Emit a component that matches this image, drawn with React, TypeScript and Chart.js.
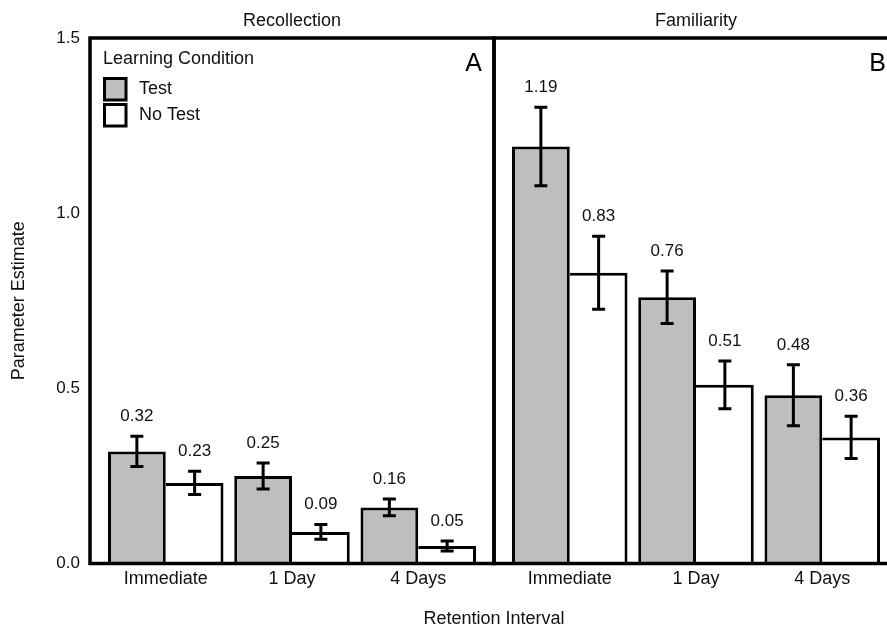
import React, { useEffect, useRef } from 'react';
import { Chart, registerables } from 'chart.js';

Chart.register(...registerables);

const categories = ['Immediate', '1 Day', '4 Days'];
const panels = ['Recollection', 'Familiarity'];
const panelLetters = ['A', 'B'];
const seriesNames = ['Test', 'No Test'];
const legendTitle = 'Learning Condition';
const yAxisTitle = 'Parameter Estimate';
const xAxisTitle = 'Retention Interval';
const yTicks = [0, 0.5, 1.0, 1.5];

const recollectionTest = [0.32, 0.25, 0.16];
const recollectionNoTest = [0.23, 0.09, 0.05];
const recollectionTestErr = [0.043, 0.037, 0.024];
const recollectionNoTestErr = [0.033, 0.021, 0.014];

const familiarityTest = [1.19, 0.76, 0.48];
const familiarityNoTest = [0.83, 0.51, 0.36];
const familiarityTestErr = [0.112, 0.075, 0.087];
const familiarityNoTestErr = [0.104, 0.068, 0.06];

const FONT = '"Liberation Sans", Arial, Helvetica, sans-serif';
const TEXT = '#111111';
const GREY = '#bebebe';
const PANEL_SPAN = 3.2;

const xPositions = panels.flatMap((_, p) => categories.map((_, c) => p * PANEL_SPAN + c + 1));
const xTickLabels = panels.flatMap(() => categories);

const testValues = [...recollectionTest, ...familiarityTest];
const noTestValues = [...recollectionNoTest, ...familiarityNoTest];
const testErrs = [...recollectionTestErr, ...familiarityTestErr];
const noTestErrs = [...recollectionNoTestErr, ...familiarityNoTestErr];

const facetPlugin = {
  id: 'facetPlugin',
  afterDatasetsDraw(chart: any) {
    const { ctx } = chart;
    const y = chart.scales.y;
    chart.data.datasets.forEach((ds: any, di: number) => {
      const meta = chart.getDatasetMeta(di);
      meta.data.forEach((bar: any, i: number) => {
        const v = ds.data[i].y;
        const e = ds.errors[i];
        const cx = bar.x;
        const yt = y.getPixelForValue(v + e);
        const yb = y.getPixelForValue(v - e);
        ctx.save();
        ctx.strokeStyle = '#000';
        ctx.lineWidth = 3;
        ctx.beginPath();
        ctx.moveTo(cx, yt);
        ctx.lineTo(cx, yb);
        ctx.moveTo(cx - 6.5, yt);
        ctx.lineTo(cx + 6.5, yt);
        ctx.moveTo(cx - 6.5, yb);
        ctx.lineTo(cx + 6.5, yb);
        ctx.stroke();
        ctx.fillStyle = TEXT;
        ctx.font = `17px ${FONT}`;
        ctx.textAlign = 'center';
        ctx.textBaseline = 'middle';
        ctx.fillText(v.toFixed(2), cx, yt - 20);
        ctx.restore();
      });
    });
  },
  afterDraw(chart: any) {
    const { ctx, chartArea } = chart;
    const x = chart.scales.x;
    const top = chartArea.top;
    const bottom = chartArea.bottom;
    ctx.save();
    ctx.strokeStyle = '#000';
    ctx.lineWidth = 3.5;
    panels.forEach((name, p) => {
      const l = x.getPixelForValue(p * PANEL_SPAN + 0.4);
      const r = x.getPixelForValue(p * PANEL_SPAN + 3.6);
      ctx.strokeRect(l, top, r - l, bottom - top);
      ctx.fillStyle = TEXT;
      ctx.font = `18px ${FONT}`;
      ctx.textAlign = 'center';
      ctx.textBaseline = 'middle';
      ctx.fillText(name, (l + r) / 2, 21);
      ctx.font = `25px ${FONT}`;
      ctx.textAlign = 'right';
      ctx.textBaseline = 'alphabetic';
      ctx.fillStyle = '#000';
      ctx.fillText(panelLetters[p], r - 12, 71);
    });
    ctx.fillStyle = TEXT;
    ctx.font = `18px ${FONT}`;
    ctx.textAlign = 'left';
    ctx.textBaseline = 'alphabetic';
    ctx.fillText(legendTitle, 103, 64);
    chart.data.datasets.forEach((ds: any, i: number) => {
      const ky = 78.5 + i * 26;
      ctx.fillStyle = ds.backgroundColor;
      ctx.fillRect(104.5, ky, 21.5, 21.5);
      ctx.strokeStyle = '#000';
      ctx.lineWidth = 3;
      ctx.strokeRect(104.5, ky, 21.5, 21.5);
      ctx.fillStyle = TEXT;
      ctx.font = `18px ${FONT}`;
      ctx.textBaseline = 'middle';
      ctx.fillText(ds.label, 139, ky + 11);
    });
    ctx.restore();
  },
};

export default function App() {
  const ref = useRef<HTMLCanvasElement>(null);
  useEffect(() => {
    const chart = new Chart(ref.current as HTMLCanvasElement, {
      type: 'bar',
      data: {
        datasets: [
          {
            label: seriesNames[0],
            data: testValues.map((v, i) => ({ x: xPositions[i], y: v })),
            errors: testErrs,
            backgroundColor: GREY,
            borderColor: '#000',
            borderWidth: { top: 3, left: 3, right: 3, bottom: 0 },
            borderSkipped: false,
          } as any,
          {
            label: seriesNames[1],
            data: noTestValues.map((v, i) => ({ x: xPositions[i], y: v })),
            errors: noTestErrs,
            backgroundColor: '#ffffff',
            borderColor: '#000',
            borderWidth: { top: 3, left: 0, right: 3, bottom: 0 },
            borderSkipped: false,
          } as any,
        ],
      },
      options: {
        animation: false,
        responsive: false,
        devicePixelRatio: 1,
        layout: { padding: { top: 38, right: 2, bottom: 0, left: 0 } },
        plugins: { legend: { display: false }, tooltip: { enabled: false } },
        datasets: { bar: { categoryPercentage: 0.915, barPercentage: 1.0 } },
        scales: {
          x: {
            type: 'linear',
            offset: false,
            min: 0.4,
            max: PANEL_SPAN * 2 + 0.4,
            grid: { display: false, drawTicks: false },
            border: { display: false },
            afterBuildTicks: (s: any) => {
              s.ticks = xPositions.map((v) => ({ value: v }));
            },
            afterFit: (s: any) => {
              s.height = 64.5;
            },
            ticks: {
              autoSkip: false,
              maxRotation: 0,
              padding: 5,
              color: TEXT,
              font: { family: FONT, size: 18 },
              callback: (_v: any, i: number) => xTickLabels[i],
            },
            title: {
              display: true,
              text: xAxisTitle,
              color: TEXT,
              font: { family: FONT, size: 18, lineHeight: 1 },
              padding: { top: 0, bottom: 0 },
            },
          } as any,
          y: {
            min: 0,
            max: 1.5,
            grid: { display: false, drawTicks: false },
            border: { display: false },
            afterBuildTicks: (s: any) => {
              s.ticks = yTicks.map((v) => ({ value: v }));
            },
            afterFit: (s: any) => {
              s.width = 90;
            },
            ticks: {
              padding: 10,
              color: TEXT,
              font: { family: FONT, size: 17 },
              callback: (v: any) => Number(v).toFixed(1),
            },
            title: {
              display: true,
              text: yAxisTitle,
              color: TEXT,
              font: { family: FONT, size: 18, lineHeight: 1 },
              padding: { top: 10, bottom: 0 },
            },
          },
        },
      },
      plugins: [facetPlugin],
    });
    return () => chart.destroy();
  }, []);
  return (
    <div
      style={{
        position: 'fixed',
        left: 0,
        top: 0,
        width: 887,
        height: 628,
        overflow: 'hidden',
        background: '#ffffff',
      }}
    >
      <canvas ref={ref} width={900} height={628} style={{ display: 'block', width: 900, height: 628 }} />
    </div>
  );
}
